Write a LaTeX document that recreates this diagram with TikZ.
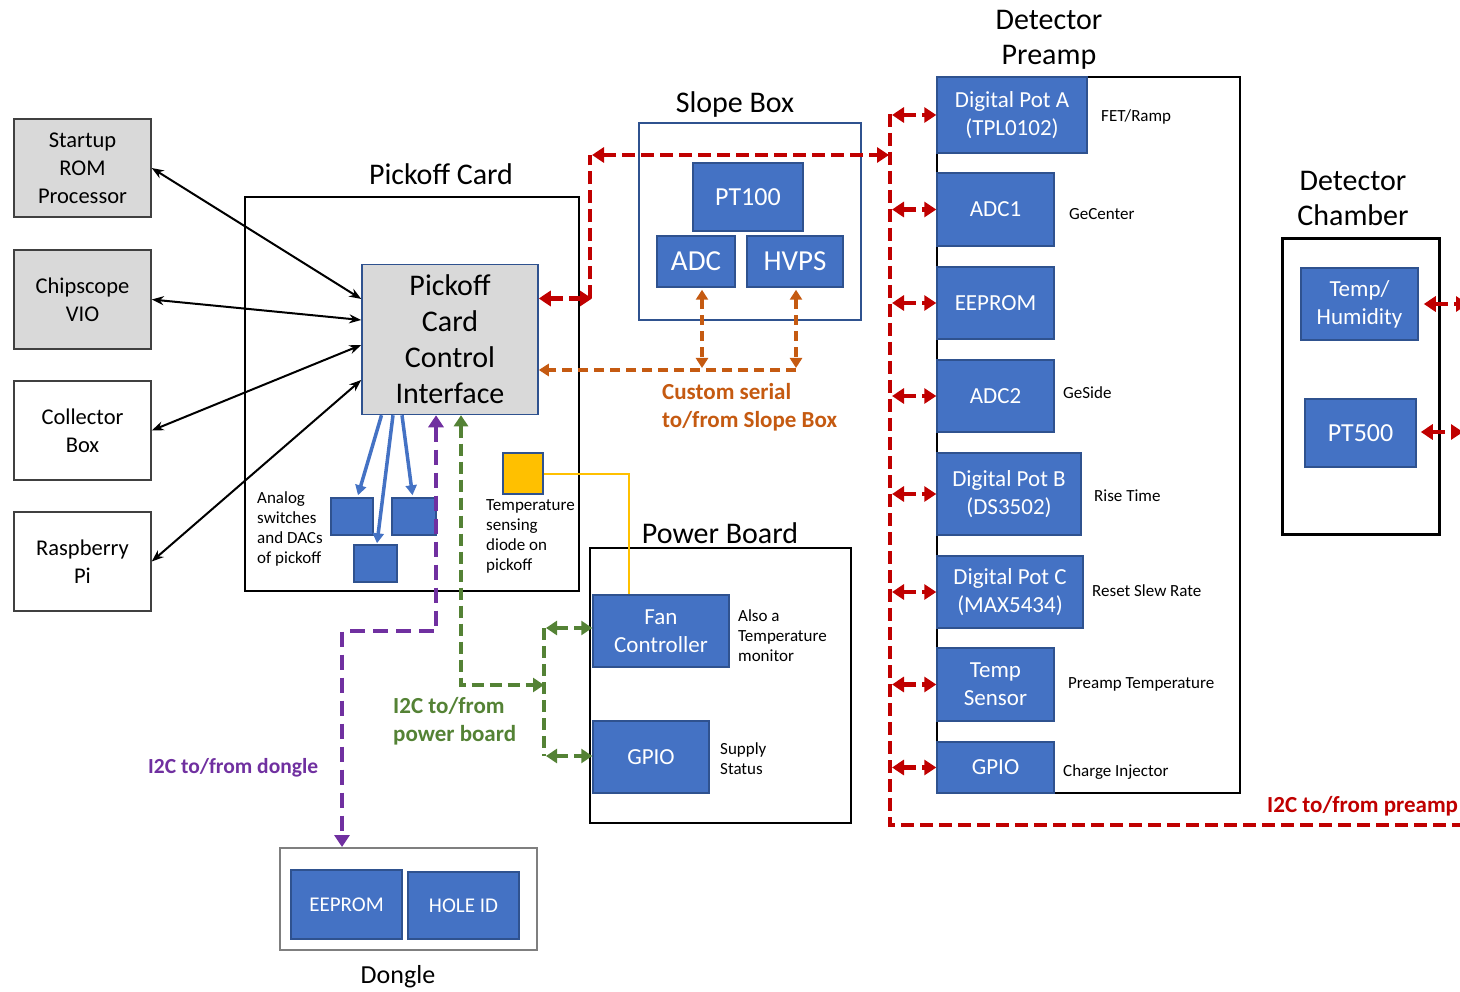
\documentclass[tikz,border=0pt]{standalone}
\usepackage{fontspec}
\setmainfont{Carlito}
\usetikzlibrary{arrows.meta,calc}

\definecolor{boxblue}{HTML}{4472C4}
\definecolor{boxedge}{HTML}{2F528F}
\definecolor{greyfill}{HTML}{D9D9D9}
\definecolor{darkedge}{HTML}{404040}
\definecolor{linkred}{HTML}{C00000}
\definecolor{linkorange}{HTML}{C55A11}
\definecolor{linkpurple}{HTML}{7030A0}
\definecolor{linkgreen}{HTML}{548235}
\definecolor{diodeyellow}{HTML}{FFC000}
\definecolor{dongleedge}{HTML}{7F7F7F}

\newcommand\fsz[2]{\fontsize{#1}{#2}\selectfont}

\tikzset{
  orangetip/.tip={Triangle[length=10pt,width=12pt]},
  redtip/.tip={Triangle[length=12pt,width=15pt]},
  greentip/.tip={Triangle[length=11pt,width=14pt]}
}

\begin{document}
\begin{tikzpicture}[x=1pt,y=-1pt,
  sz/.style 2 args={minimum width=#1pt, minimum height=#2pt},
  base/.style={inner sep=0pt, align=center, line width=1.5pt},
  bluebox/.style={base, draw=boxedge, fill=boxblue, text=white, font=\fsz{23}{28}},
  greybox/.style={base, draw=darkedge, fill=greyfill, font=\fsz{22.5}{28}},
  whitebox/.style={base, draw=darkedge, fill=white, font=\fsz{22.5}{28}},
  frame/.style={base, draw=black},
  title/.style={font=\fsz{30}{35}, align=center, inner sep=0pt},
  note/.style={font=\fsz{17}{20}, align=left, anchor=west, inner sep=0pt},
  boldnote/.style={font=\fsz{23}{28}\bfseries, align=left, anchor=west, inner sep=0pt},
  blackarrow/.style={line width=2pt, {Stealth[length=12pt,width=9pt]}-{Stealth[length=12pt,width=9pt]}},
  bluearrow/.style={line width=3.5pt, draw=boxblue, -{Triangle[length=10pt,width=11pt]}},
  redline/.style={line width=4.5pt, draw=linkred, dash pattern=on 13pt off 6pt},
  redlink/.style={redline, redtip-redtip},
  orangeline/.style={line width=3.5pt, draw=linkorange, dash pattern=on 10pt off 6pt},
  purplelink/.style={line width=4.5pt, draw=linkpurple, dash pattern=on 15pt off 8pt, redtip-redtip},
  greenline/.style={line width=4.5pt, draw=linkgreen, dash pattern=on 12pt off 6pt},
  greenlink/.style={greenline, greentip-greentip},
  yellowline/.style={line width=2pt, draw=diodeyellow}
]
\useasboundingbox (0,0) rectangle (1460,992);

% ---------- left-hand devices ----------
\node[greybox, sz={137}{98}] (rom) at (82.5,168) {Startup\\ROM\\Processor};
\node[greybox, sz={137}{99}] (vio) at (82.5,299.5) {Chipscope\\VIO};
\node[whitebox, sz={137}{99}] (coll) at (82.5,430.5) {Collector\\Box};
\node[whitebox, sz={137}{99}] (rpi) at (82.5,561.5) {Raspberry\\Pi};

% ---------- pickoff card ----------
\node[frame, sz={334}{394}] (pickoff) at (412,394) {};
\node[title] (pickofftitle) at (441,174) {Pickoff Card};
\node[base, draw=boxedge, fill=greyfill, sz={176}{150}, font=\fsz{30}{36}] (pcci) at (450,339.5)
  {Pickoff\\Card\\Control\\Interface};
\node[bluebox, sz={42}{37}] (sw1) at (352,516.5) {};
\node[bluebox, sz={44}{37}] (sw2) at (414,516.5) {};
\node[bluebox, sz={43}{37}] (sw3) at (375.5,563.5) {};
\node[base, draw=boxedge, fill=diodeyellow, sz={40}{41}] (diode) at (523,473.5) {};
\node[note] (swnote) at (257,529) {Analog\\switches\\and DACs\\of pickoff};
\node[note] (diodenote) at (486,536) {Temperature\\sensing\\diode on\\pickoff};

% ---------- slope box ----------
\node[base, draw=boxedge, sz={222}{197}] (slope) at (750,221.5) {};
\node[title] (slopetitle) at (735,105) {Slope Box};
\node[bluebox, sz={110}{68}, font=\fsz{26}{30}] (pt100) at (748,197) {PT100};
\node[bluebox, sz={78}{51}, font=\fsz{29}{32}] (sadc) at (696,261.5) {ADC};
\node[bluebox, sz={96}{51}, font=\fsz{29}{32}] (hvps) at (795,261.5) {HVPS};
\node[boldnote, text=linkorange] (serialnote) at (662,407) {Custom serial\\to/from Slope Box};

% ---------- power board ----------
\node[frame, sz={261}{275}] (power) at (720.5,685.5) {};
\node[title] (powertitle) at (720,533) {Power Board};
\node[bluebox, sz={136}{72}] (fan) at (661,631) {Fan\\Controller};
\node[bluebox, sz={116}{72}] (pgpio) at (651,757) {GPIO};
\node[note] (fannote) at (738,636) {Also a\\Temperature\\monitor};
\node[note] (supplynote) at (720,759) {Supply\\Status};
\node[boldnote, text=linkgreen] (pwrnote) at (393,721) {I2C to/from\\power board};

% ---------- dongle ----------
\node[base, draw=dongleedge, line width=2pt, sz={257}{102}] (dongle) at (408.5,899) {};
\node[bluebox, sz={111}{69}, font=\fsz{21}{25}] (deeprom) at (346.5,904.5) {EEPROM};
\node[bluebox, sz={111}{67}, font=\fsz{21}{25}] (holeid) at (463.5,905.5) {HOLE ID};
\node[title, font=\fsz{26}{30}] (dongletitle) at (398,977) {Dongle};
\node[boldnote, font=\fsz{21.5}{26}\bfseries, text=linkpurple] (donglenote) at (148,768) {I2C to/from dongle};

% ---------- detector preamp ----------
\node[frame, sz={303}{716}] (preamp) at (1088.5,435) {};
\node[title] (preamptitle) at (1049,40) {Detector\\Preamp};
\node[bluebox, sz={150}{76}] (pota) at (1012,115) {Digital Pot A\\(TPL0102)};
\node[bluebox, sz={117}{73}] (adc1) at (995.5,209.5) {ADC1};
\node[bluebox, sz={117}{72}] (peeprom) at (995.5,303) {EEPROM};
\node[bluebox, sz={117}{72}] (adc2) at (995.5,396) {ADC2};
\node[bluebox, sz={144}{82}] (potb) at (1009,494) {Digital Pot B\\(DS3502)};
\node[bluebox, sz={146}{72}] (potc) at (1010,592) {Digital Pot C\\(MAX5434)};
\node[bluebox, sz={117}{73}] (tsens) at (995.5,684.5) {Temp\\Sensor};
\node[bluebox, sz={117}{51}] (gpio2) at (995.5,767.5) {GPIO};
\node[note] (n1) at (1101,117) {FET/Ramp};
\node[note] (n2) at (1069,214) {GeCenter};
\node[note] (n3) at (1063,393) {GeSide};
\node[note] (n4) at (1094,496) {Rise Time};
\node[note] (n5) at (1092,591) {Reset Slew Rate};
\node[note] (n6) at (1068,684) {Preamp Temperature};
\node[note] (n7) at (1063,772) {Charge Injector};
\node[boldnote, text=linkred] (preampnote) at (1267,806) {I2C to/from preamp};

% ---------- detector chamber ----------
\node[base, draw=black, line width=3pt, sz={157}{295}] (chamber) at (1360.5,386.5) {};
\node[title] (chambertitle) at (1353,198) {Detector\\Chamber};
\node[bluebox, sz={117}{72}] (temph) at (1359.5,304) {Temp/\\Humidity};
\node[bluebox, sz={111}{68}, font=\fsz{26}{30}] (pt500) at (1360.5,433) {PT500};

% ---------- control links to the pickoff interface ----------
\draw[blackarrow] (rom.east) -- ($(pcci.west)+(0,-40.5)$);
\draw[blackarrow] (vio.east) -- ($(pcci.west)+(0,-19.5)$);
\draw[blackarrow] (coll.east) -- ($(pcci.west)+(0,5.5)$);
\draw[blackarrow] (rpi.east) -- ($(pcci.west)+(0,40.5)$);

\draw[bluearrow] ($(pcci.south)+(-68.5,0)$) -- ($(sw1.north)+(6,-2)$);
\draw[bluearrow] ($(pcci.south)+(-57,0)$) -- ($(sw3.north)+(1.5,-1)$);
\draw[bluearrow] ($(pcci.south)+(-48,0)$) -- ($(sw2.north)+(-1.5,-2)$);

\draw[yellowline] (diode.east) -| ($(fan.north)+(-32,0)$);

% custom serial bus to the slope box
\coordinate (ojoin) at (796,370);
\draw[orangeline, orangetip-orangetip]
  ($(sadc.south)+(6,2)$) -- ($(sadc.south |- ojoin)+(6,-2)$);
\draw[orangeline, orangetip-orangetip]
  ($(hvps.south)+(1,2)$) -- ($(ojoin)+(0,-2)$);
\draw[orangeline, -orangetip] (ojoin) -- (pcci.east |- ojoin);

% I2C to the dongle
\coordinate (pbend) at (342,631);
\draw[purplelink] ($(pcci.south)+(-14,0)$) |- (pbend) -- (pbend |- dongle.north);

% I2C to the power board
\coordinate (gjoin) at (544,685);
\draw[greenlink] ($(pcci.south)+(11,0)$) |- (gjoin);
\draw[greenline] ($(fan.west -| gjoin)+(0,-3)$) -- ($(pgpio.west -| gjoin)+(0,-1)$);
\draw[greenlink] ($(fan.west -| gjoin)+(2,-3)$) -- ($(fan.west)+(0,-3)$);
\draw[greenlink] ($(pgpio.west -| gjoin)+(2,-1)$) -- ($(pgpio.west)+(0,-1)$);

% I2C to the preamp
\coordinate (rlow) at (590,298.5);
\coordinate (rcorner) at (590,155);
\coordinate (rtop) at (890,114);
\coordinate (rbot) at (890,825);
\coordinate (rend) at (1470,825);
\draw[redlink] ($(pcci.east)+(0,-41)$) -- ($(rlow)+(2,0)$);
\draw[redline] (rlow) -- (rcorner);
\draw[redlink] ($(rcorner)+(2,0)$) -- ($(rtop |- rcorner)+(-1,0)$);
\draw[redline] (rtop) -- (rbot) -- (rend);
\foreach \b in {pota,adc1,peeprom,adc2,potb,potc,tsens,gpio2}
  \draw[redlink] ($(\b.west -| rtop)+(2,0)$) -- (\b.west);

\begin{scope}
  \clip (0,0) rectangle (1460,992);
  \coordinate (c1) at (1468,304);
  \coordinate (c2) at (1463,432);
  \draw[redlink] ($(temph.east)+(5,0)$) -- (c1);
  \draw[redlink] ($(pt500.east |- c2)+(4,0)$) -- (c2);
\end{scope}
\end{tikzpicture}
\end{document}
